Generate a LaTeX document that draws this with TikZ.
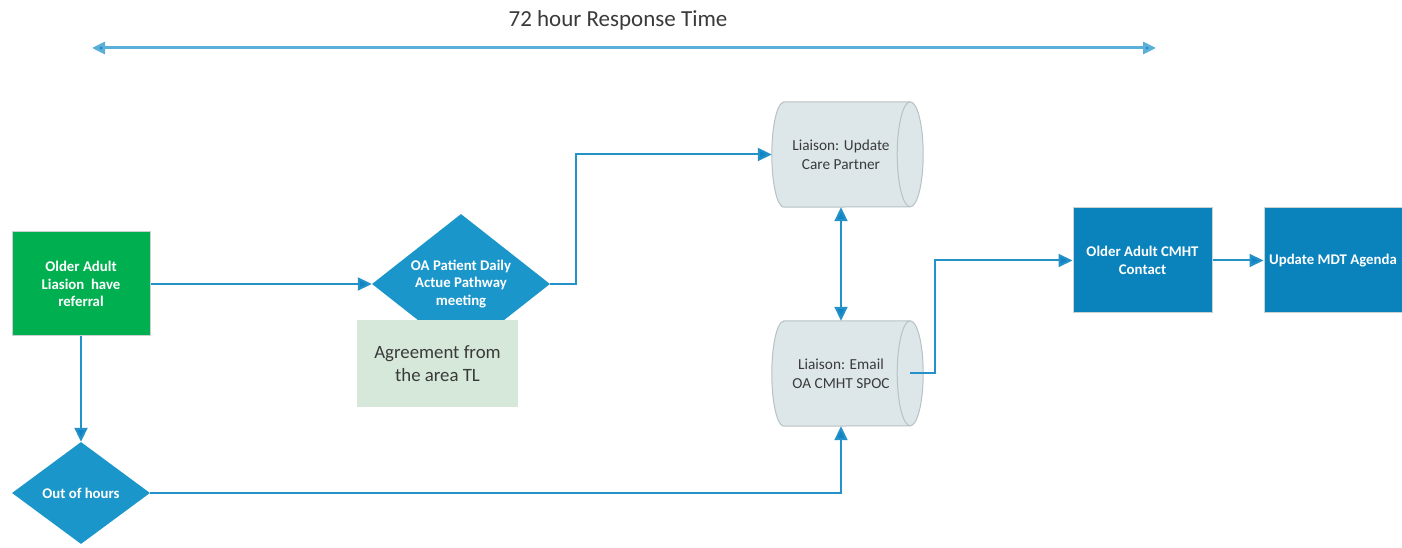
\documentclass[tikz,border=0pt]{standalone}
\usepackage{fontspec}
\setmainfont{Carlito}
\usetikzlibrary{shapes.geometric,arrows.meta,calc,backgrounds}
\definecolor{flowline}{HTML}{2591C9}
\definecolor{flowtip}{HTML}{1283C3}
\definecolor{spanline}{HTML}{5AAFD9}
\definecolor{startgreen}{HTML}{00B050}
\definecolor{stepblue}{HTML}{0A82BC}
\definecolor{decblue}{HTML}{1B96CA}
\definecolor{notegreen}{HTML}{D5E8D9}
\definecolor{cylfill}{HTML}{DDE7E9}
\definecolor{cyledge}{HTML}{B6C2C4}
\definecolor{edgegrey}{HTML}{C9D1D2}
\definecolor{textgrey}{HTML}{3A3A3A}
\tikzset{
  flow/.style={draw=flowline, line width=2pt, -{Triangle[length=14pt,width=13pt,fill=flowtip]}},
  span/.style={draw=spanline, line width=3pt,
    {Triangle[length=13pt,width=12pt,fill=flowtip]}-{Triangle[length=13pt,width=12pt,fill=flowtip]}},
  whitetext/.style={text=white, font=\fontsize{14.8}{17.5}\selectfont\bfseries, align=center, inner sep=0pt},
  greenbox/.style={whitetext, rectangle, fill=startgreen, draw=edgegrey, line width=1pt,
    minimum width=138, minimum height=104},
  stepbox/.style={whitetext, rectangle, fill=stepblue, draw=edgegrey, line width=1pt,
    minimum width=139, minimum height=105},
  decision/.style={whitetext, diamond, fill=decblue, aspect=1.27},
  notebox/.style={rectangle, fill=notegreen, text=textgrey, align=center, inner sep=0pt,
    font=\fontsize{18.8}{23}\selectfont, minimum width=161, minimum height=87},
  cylbody/.style={rectangle, inner sep=0pt, text=textgrey, align=center,
    font=\fontsize{15.3}{19}\selectfont, minimum width=138, minimum height=105},
  cylshape/.style={fill=cylfill, draw=cyledge, line width=1pt},
  cylcap/.style={draw=cyledge, line width=1pt}
}
\begin{document}
\begin{tikzpicture}[x=1pt,y=1pt]
\useasboundingbox (0,0) rectangle (1402,548);

% response-time span
\node[font=\fontsize{23}{26}\selectfont, text=textgrey] (title) at (618,528) {72 hour Response Time};
\coordinate (spanL) at (92,500);
\coordinate (spanR) at (1156,500);
\draw[span] (spanL) -- (spanR);

% nodes
\node[greenbox] (ref) at (81,264) {Older Adult\\Liasion\ \ have\\referral};
\node[decision, minimum width=178, minimum height=140] (oa) at (461,264) {OA Patient Daily\\Actue Pathway\\meeting};
\node[notebox] (agree) at (437.5,184.5) {Agreement from\\the area TL};
\node[decision, minimum width=138, minimum height=102] (ooh) at (81,55) {Out of hours};
\node[cylbody] (upd) at (841,393.5) {Liaison: Update\\Care Partner};
\node[cylbody] (mail) at (841,174.5) {Liaison: Email\\OA CMHT SPOC};
\node[stepbox] (cmht) at (1142.5,287.5) {Older Adult CMHT\\Contact};
\node[stepbox, minimum width=138] (mdt) at (1333,287.5) {Update MDT Agenda};

% cylinder outlines behind their labels
\begin{scope}[on background layer]
  \foreach \c in {upd,mail}{
    \path[cylshape] ($(\c.north west)+(12,0)$) -- (\c.north east)
      arc[start angle=90, end angle=-90, x radius=13, y radius=52.5]
      -- ($(\c.south west)+(12,0)$)
      arc[start angle=270, end angle=90, x radius=12, y radius=52.5] -- cycle;
    \draw[cylcap] (\c.north east) arc[start angle=90, end angle=270, x radius=13, y radius=52.5];
  }
\end{scope}

% connectors
\draw[flow] (ref.east) -- (oa.west);
\draw[flow] (oa.east) -- ++(26,0) |- (upd.west);
\draw[flow, {Triangle[length=14pt,width=13pt,fill=flowtip]}-{Triangle[length=14pt,width=13pt,fill=flowtip]}] (upd.south) -- (mail.north);
\draw[flow] (mail.east) -- ++(25,0) |- (cmht.west);
\draw[flow] (cmht.east) -- (mdt.west);
\draw[flow] (ref.south) -- (ooh.north);
\draw[flow] (ooh.east) -| (mail.south);
\end{tikzpicture}
\end{document}
